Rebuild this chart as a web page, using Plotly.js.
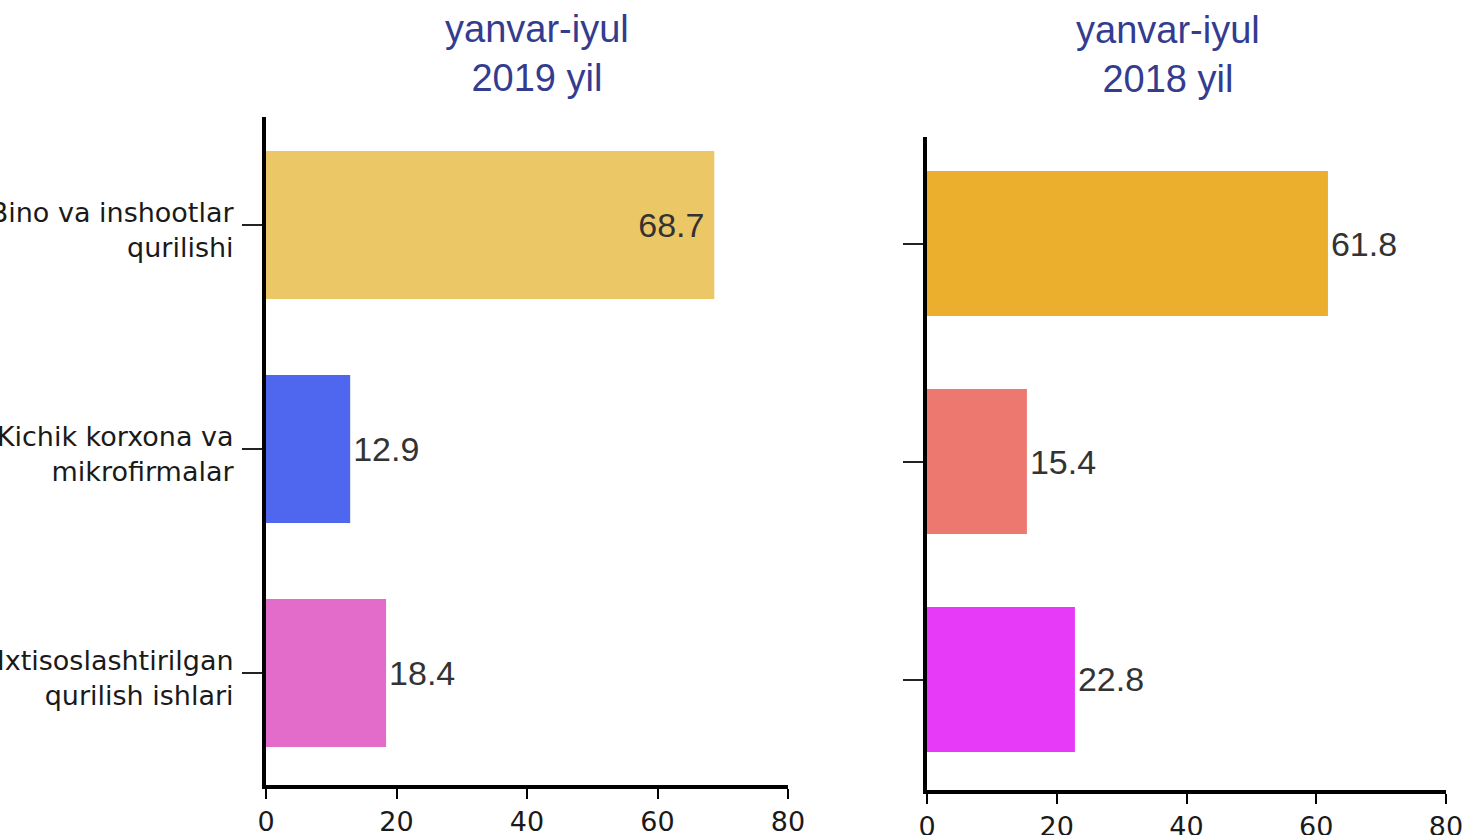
<!DOCTYPE html>
<html>
<head>
<meta charset="utf-8">
<script src="https://cdn.plot.ly/plotly-3.0.1.min.js"></script>
<style>
  html, body { margin: 0; padding: 0; background: #ffffff; }
  #chart { width: 1466px; height: 835px; }
</style>
</head>
<body>
<div id="chart"></div>
<script>
// ---- data ----
const categories = [
  "Bino va inshootlar<br>qurilishi",
  "Kichik korxona va<br>mikrofirmalar",
  "Ixtisoslashtirilgan<br>qurilish ishlari"
];
const values2019 = [68.7, 12.9, 18.4];
const values2018 = [61.8, 15.4, 22.8];
const title2019 = "yanvar-iyul<br>2019 yil";
const title2018 = "yanvar-iyul<br>2018 yil";
const xTicks = [0, 20, 40, 60, 80];

// ---- styles ----
const colors2019 = ["#ECC765", "#4F67EE", "#E36BC9"];
const colors2018 = ["#EBAE2D", "#EC7870", "#E73AF8"];
const labelFont = { family: "Liberation Sans, Arial, sans-serif", size: 34, color: "#333333" };
const tickFont = { family: "DejaVu Sans, sans-serif", size: 27, color: "#1a1a1a" };
const titleFont = { family: "Liberation Sans, Arial, sans-serif", size: 38, color: "#343C8F" };

const W = 1466, H = 835;
const px = v => v / W;
const py = v => 1 - v / H;

const traces = [
  {
    type: "bar", orientation: "h",
    x: values2019, y: categories,
    xaxis: "x", yaxis: "y",
    marker: { color: colors2019 },
    width: 0.66,
    text: values2019.map(v => v.toFixed(1)),
    texttemplate: values2019.map((v, i) => i === 0 ? "%{text}\u2009" : "%{text}"),
    textposition: ["inside", "outside", "outside"],
    insidetextanchor: "end",
    textfont: labelFont, insidetextfont: labelFont, outsidetextfont: labelFont,
    constraintext: "none", cliponaxis: false,
    hoverinfo: "skip", showlegend: false
  },
  {
    type: "bar", orientation: "h",
    x: values2018, y: categories,
    xaxis: "x2", yaxis: "y2",
    marker: { color: colors2018 },
    width: 0.665,
    text: values2018.map(v => v.toFixed(1)),
    texttemplate: "%{text}",
    textposition: "outside",
    textfont: labelFont, outsidetextfont: labelFont,
    constraintext: "none", cliponaxis: false,
    hoverinfo: "skip", showlegend: false
  }
];

const xBase = {
  range: [0, 80], tickvals: xTicks, ticktext: xTicks.map(String),
  showline: true, linecolor: "#000000", linewidth: 4,
  ticks: "outside", ticklen: 10, tickwidth: 2, tickcolor: "#000000",
  showgrid: false, zeroline: false, tickfont: tickFont,
  fixedrange: true, automargin: false
};
const yBase = {
  type: "category", categoryorder: "array", categoryarray: categories,
  showline: true, linecolor: "#000000", linewidth: 4,
  ticks: "outside", ticklen: 20, tickwidth: 2, tickcolor: "#222222",
  showgrid: false, zeroline: false, tickfont: tickFont,
  fixedrange: true, automargin: false
};

const layout = {
  width: W, height: H,
  margin: { l: 0, r: 0, t: 0, b: 0, pad: 0 },
  paper_bgcolor: "#ffffff", plot_bgcolor: "#ffffff",
  bargap: 0.34,
  xaxis: Object.assign({}, xBase, { domain: [px(266), px(788)], anchor: "y" }),
  yaxis: Object.assign({}, yBase, { domain: [py(785), py(117)], anchor: "x", range: [2.5, -0.482], ticklabelstandoff: 3, ticklabelshift: -5 }),
  xaxis2: Object.assign({}, xBase, { domain: [px(927), px(1446)], anchor: "y2" }),
  yaxis2: Object.assign({}, yBase, { domain: [py(790), py(137)], anchor: "x2", range: [2.507, -0.489], showticklabels: false }),
  annotations: [
    { text: title2019, xref: "paper", yref: "paper", x: px(537), y: py(53),
      xanchor: "center", yanchor: "middle", showarrow: false, align: "center", font: titleFont },
    { text: title2018, xref: "paper", yref: "paper", x: px(1168), y: py(55),
      xanchor: "center", yanchor: "middle", showarrow: false, align: "center", font: titleFont }
  ]
};

Plotly.newPlot("chart", traces, layout, { staticPlot: true, displayModeBar: false });
</script>
</body>
</html>
